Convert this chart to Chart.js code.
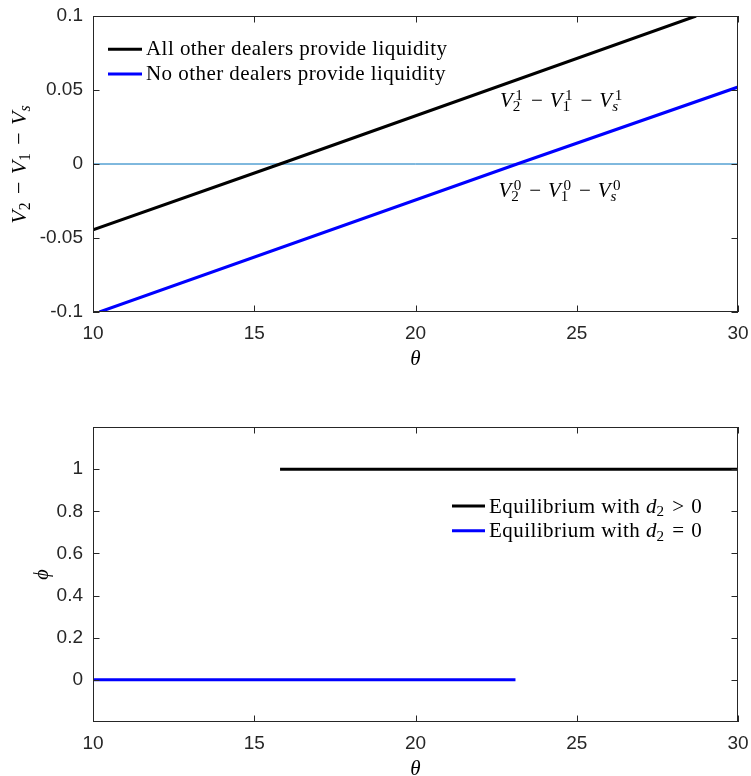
<!DOCTYPE html>
<html><head><meta charset="utf-8">
<script src="https://cdn.jsdelivr.net/npm/chart.js@4.4.1/dist/chart.umd.min.js"></script>
<style>
html,body{margin:0;padding:0;background:#fff;}
.box{position:absolute;left:0;width:751px;}
</style></head><body>
<div style="position:relative;width:751px;height:776px;">
<div class="box" style="top:0;height:390px;"><canvas id="c1"></canvas></div>
<div class="box" style="top:390px;height:386px;"><canvas id="c2"></canvas></div>
</div>
<script>
// ---- data ----
const xTicks = [10, 15, 20, 25, 30];
const xTickLabels = ['10', '15', '20', '25', '30'];
const topYTicks = [-0.1, -0.05, 0, 0.05, 0.1];
const topYTickLabels = ['-0.1', '-0.05', '0', '0.05', '0.1'];
const botYTicks = [0, 0.2, 0.4, 0.6, 0.8, 1];
const botYTickLabels = ['0', '0.2', '0.4', '0.6', '0.8', '1'];

const thetaAll = [10, 15.8, 28.7];
const gapAll = [-0.0445, 0, 0.1];
const thetaNone = [10.2, 23.15, 30];
const gapNone = [-0.1, 0, 0.052];
const thetaZero = [10, 30];
const zeroLine = [0, 0];

const thetaPhiPos = [15.8, 30];
const phiPos = [1, 1];
const thetaPhiZero = [10, 23.1];
const phiZero = [0, 0];

const topLegendLabels = ['All other dealers provide liquidity', 'No other dealers provide liquidity'];

// ---- math text helpers ----
const SERIF = '"Liberation Serif", "Times New Roman", serif';
function V(sub, sup) { return [{ t: 'V', i: true }, { sub: sub, sup: sup, subI: sub === 's' }]; }
const MINUS = { op: '\u2212', pad: 0.33 };
const yTitleTop = [...V('2'), MINUS, ...V('1'), MINUS, ...V('s')];
const annTop = [...V('2', '1'), MINUS, ...V('1', '1'), MINUS, ...V('s', '1')];
const annBot = [...V('2', '0'), MINUS, ...V('1', '0'), MINUS, ...V('s', '0')];
const legPos = [{ t: 'Equilibrium with ', ls: 0.45 }, { t: 'd', i: true }, { sub: '2' }, { op: '>', pad: 0.34 }, { t: '0' }];
const legZero = [{ t: 'Equilibrium with ', ls: 0.45 }, { t: 'd', i: true }, { sub: '2' }, { op: '=', pad: 0.34 }, { t: '0' }];

function fnt(size, it) { return (it ? 'italic ' : '') + size + 'px ' + SERIF; }
function layoutMath(ctx, parts, size, draw, x, y) {
  let cx = x || 0;
  const sm = size * 0.72;
  for (const p of parts) {
    ctx.letterSpacing = '0px';
    if (p.t !== undefined) {
      ctx.font = fnt(size, p.i);
      if (p.ls) ctx.letterSpacing = p.ls + 'px';
      if (draw) ctx.fillText(p.t, cx, y);
      cx += ctx.measureText(p.t).width;
      ctx.letterSpacing = '0px';
    } else if (p.op !== undefined) {
      ctx.font = fnt(size, false);
      const w = ctx.measureText(p.op).width;
      const pad = size * (p.pad || 0.24);
      if (draw) ctx.fillText(p.op, cx + pad, y);
      cx += w + 2 * pad;
    } else {
      let w = 0;
      const both = p.sup !== undefined && p.sub !== undefined;
      if (p.sup !== undefined) {
        ctx.font = fnt(sm, false);
        const off = size * 0.12;
        if (draw) ctx.fillText(p.sup, cx + off, y - size * 0.32);
        w = Math.max(w, ctx.measureText(p.sup).width + off);
      }
      if (p.sub !== undefined) {
        ctx.font = fnt(sm, p.subI);
        if (draw) ctx.fillText(p.sub, cx, y + size * (both ? 0.2 : 0.17));
        w = Math.max(w, ctx.measureText(p.sub).width);
      }
      cx += w + size * 0.05;
    }
  }
  return cx - (x || 0);
}
function drawMath(ctx, parts, size, x, y, align) {
  ctx.textAlign = 'left';
  ctx.textBaseline = 'alphabetic';
  const w = layoutMath(ctx, parts, size, false, 0, 0);
  const sx = align === 'center' ? x - w / 2 : x;
  layoutMath(ctx, parts, size, true, sx, y);
  return w;
}

// ---- plugins ----
const framePlugin = {
  id: 'frame',
  afterDatasetsDraw(chart, args, o) {
    const { ctx, chartArea: a, scales: { x, y } } = chart;
    ctx.save();
    ctx.strokeStyle = '#262626';
    ctx.lineWidth = 1;
    const L = 6.5;
    ctx.beginPath();
    for (const v of o.xt) {
      const px = Math.round(x.getPixelForValue(v)) + 0.5;
      ctx.moveTo(px, a.bottom); ctx.lineTo(px, a.bottom - L);
      ctx.moveTo(px, a.top); ctx.lineTo(px, a.top + L);
    }
    for (const v of o.yt) {
      const py = Math.round(y.getPixelForValue(v)) + 0.5;
      ctx.moveTo(a.left, py); ctx.lineTo(a.left + L, py);
      ctx.moveTo(a.right, py); ctx.lineTo(a.right - L, py);
    }
    ctx.stroke();
    ctx.strokeRect(a.left + 0.5, a.top + 0.5, a.width - 1, a.height - 1);
    ctx.restore();
  }
};

const textPlugin = {
  id: 'mathText',
  afterDraw(chart, args, o) {
    const { ctx, chartArea: a, scales: { x, y } } = chart;
    ctx.save();
    ctx.fillStyle = '#000';
    // y title
    ctx.save();
    ctx.translate(o.yTitleX, (a.top + a.bottom) / 2);
    ctx.rotate(-Math.PI / 2);
    if (o.yTitleParts) drawMath(ctx, o.yTitleParts, o.yTitleSize, 0, 0, 'center');
    ctx.restore();
    // x title
    ctx.font = fnt(o.xTitleSize, true);
    ctx.textAlign = 'center';
    ctx.fillText('\u03b8', (a.left + a.right) / 2, o.xTitleY);
    // annotations
    for (const an of (o.ann || [])) {
      drawMath(ctx, an.parts, an.size, x.getPixelForValue(an.x), y.getPixelForValue(an.y), 'left');
    }
    // legend
    const lg = o.legend;
    if (lg) {
      chart.data.datasets.forEach((ds, i) => {
        if (!ds.legendParts) return;
        const ly = lg.y + i * lg.dy;
        ctx.strokeStyle = ds.borderColor;
        ctx.lineWidth = ds.borderWidth;
        ctx.beginPath();
        ctx.moveTo(lg.x, ly); ctx.lineTo(lg.x + lg.len, ly);
        ctx.stroke();
        ctx.fillStyle = '#000';
        drawMath(ctx, ds.legendParts, lg.size, lg.x + lg.len + 4, ly + lg.base, 'left');
      });
    }
    ctx.restore();
  }
};

function zeroPad(s) { s.paddingLeft = 0; s.paddingRight = 0; s.paddingTop = 0; s.paddingBottom = 0; }

function scalesFor(yMin, yMax, yTicks, yLabels, xHeight) {
  return {
    x: {
      type: 'linear', min: 10, max: 30,
      grid: { display: false, drawTicks: false },
      border: { display: false },
      afterBuildTicks: s => { s.ticks = xTicks.map(v => ({ value: v })); },
      ticks: {
        padding: 10, color: '#262626', maxRotation: 0,
        font: { family: '"Liberation Sans", Arial, sans-serif', size: 19 },
        callback: (v) => xTickLabels[xTicks.indexOf(v)]
      },
      afterFit: s => { s.height = xHeight; zeroPad(s); }
    },
    y: {
      type: 'linear', min: yMin, max: yMax,
      grid: { display: false, drawTicks: false },
      border: { display: false },
      afterBuildTicks: s => { s.ticks = yTicks.map(v => ({ value: v })); },
      ticks: {
        padding: 10, color: '#262626',
        font: { family: '"Liberation Sans", Arial, sans-serif', size: 19 },
        callback: (v) => yLabels[yTicks.indexOf(v)]
      },
      afterFit: s => { s.width = 93; zeroPad(s); }
    }
  };
}

function pts(xs, ys) { return xs.map((v, i) => ({ x: v, y: ys[i] })); }

Chart.defaults.animation = false;
Chart.defaults.plugins.legend.display = false;
Chart.defaults.plugins.tooltip.enabled = false;

new Chart(document.getElementById('c1'), {
  type: 'line',
  data: {
    datasets: [
      { data: pts(thetaAll, gapAll), borderColor: '#000000', borderWidth: 3, pointRadius: 0, order: 1, legendParts: [{ t: topLegendLabels[0], ls: 0.45 }] },
      { data: pts(thetaNone, gapNone), borderColor: '#0000ff', borderWidth: 3, pointRadius: 0, order: 2, legendParts: [{ t: topLegendLabels[1], ls: 0.45 }] },
      { data: pts(thetaZero, zeroLine), borderColor: '#0072BD', borderWidth: 1, pointRadius: 0, order: 3 }
    ]
  },
  options: {
    responsive: true, maintainAspectRatio: false,
    layout: { padding: { left: 0, right: 13, top: 16, bottom: 0 } },
    scales: scalesFor(-0.1, 0.1, topYTicks, topYTickLabels, 78),
    plugins: {
      frame: { xt: xTicks, yt: topYTicks },
      mathText: {
        yTitleX: 26, yTitleParts: yTitleTop, yTitleSize: 22,
        xTitleY: 365, xTitleSize: 21,
        ann: [
          { parts: annTop, size: 21, x: 22.62, y: 0.0387 },
          { parts: annBot, size: 21, x: 22.57, y: -0.0221 }
        ],
        legend: { x: 108, y: 49.3, dy: 24.7, len: 34, size: 21, base: 6 }
      }
    }
  },
  plugins: [framePlugin, textPlugin]
});

new Chart(document.getElementById('c2'), {
  type: 'line',
  data: {
    datasets: [
      { data: pts(thetaPhiPos, phiPos), borderColor: '#000000', borderWidth: 3, pointRadius: 0, order: 1, legendParts: legPos },
      { data: pts(thetaPhiZero, phiZero), borderColor: '#0000ff', borderWidth: 3, pointRadius: 0, order: 2, legendParts: legZero }
    ]
  },
  options: {
    responsive: true, maintainAspectRatio: false,
    layout: { padding: { left: 0, right: 13, top: 37, bottom: 0 } },
    scales: scalesFor(-0.2, 1.2, botYTicks, botYTickLabels, 54),
    plugins: {
      frame: { xt: xTicks, yt: botYTicks },
      mathText: {
        yTitleX: 48, yTitleParts: [{ t: '\u03d5', i: true }], yTitleSize: 20,
        xTitleY: 385, xTitleSize: 21,
        legend: { x: 452, y: 116, dy: 24.7, len: 33, size: 21, base: 6.5 }
      }
    }
  },
  plugins: [framePlugin, textPlugin]
});
</script>
</body></html>
